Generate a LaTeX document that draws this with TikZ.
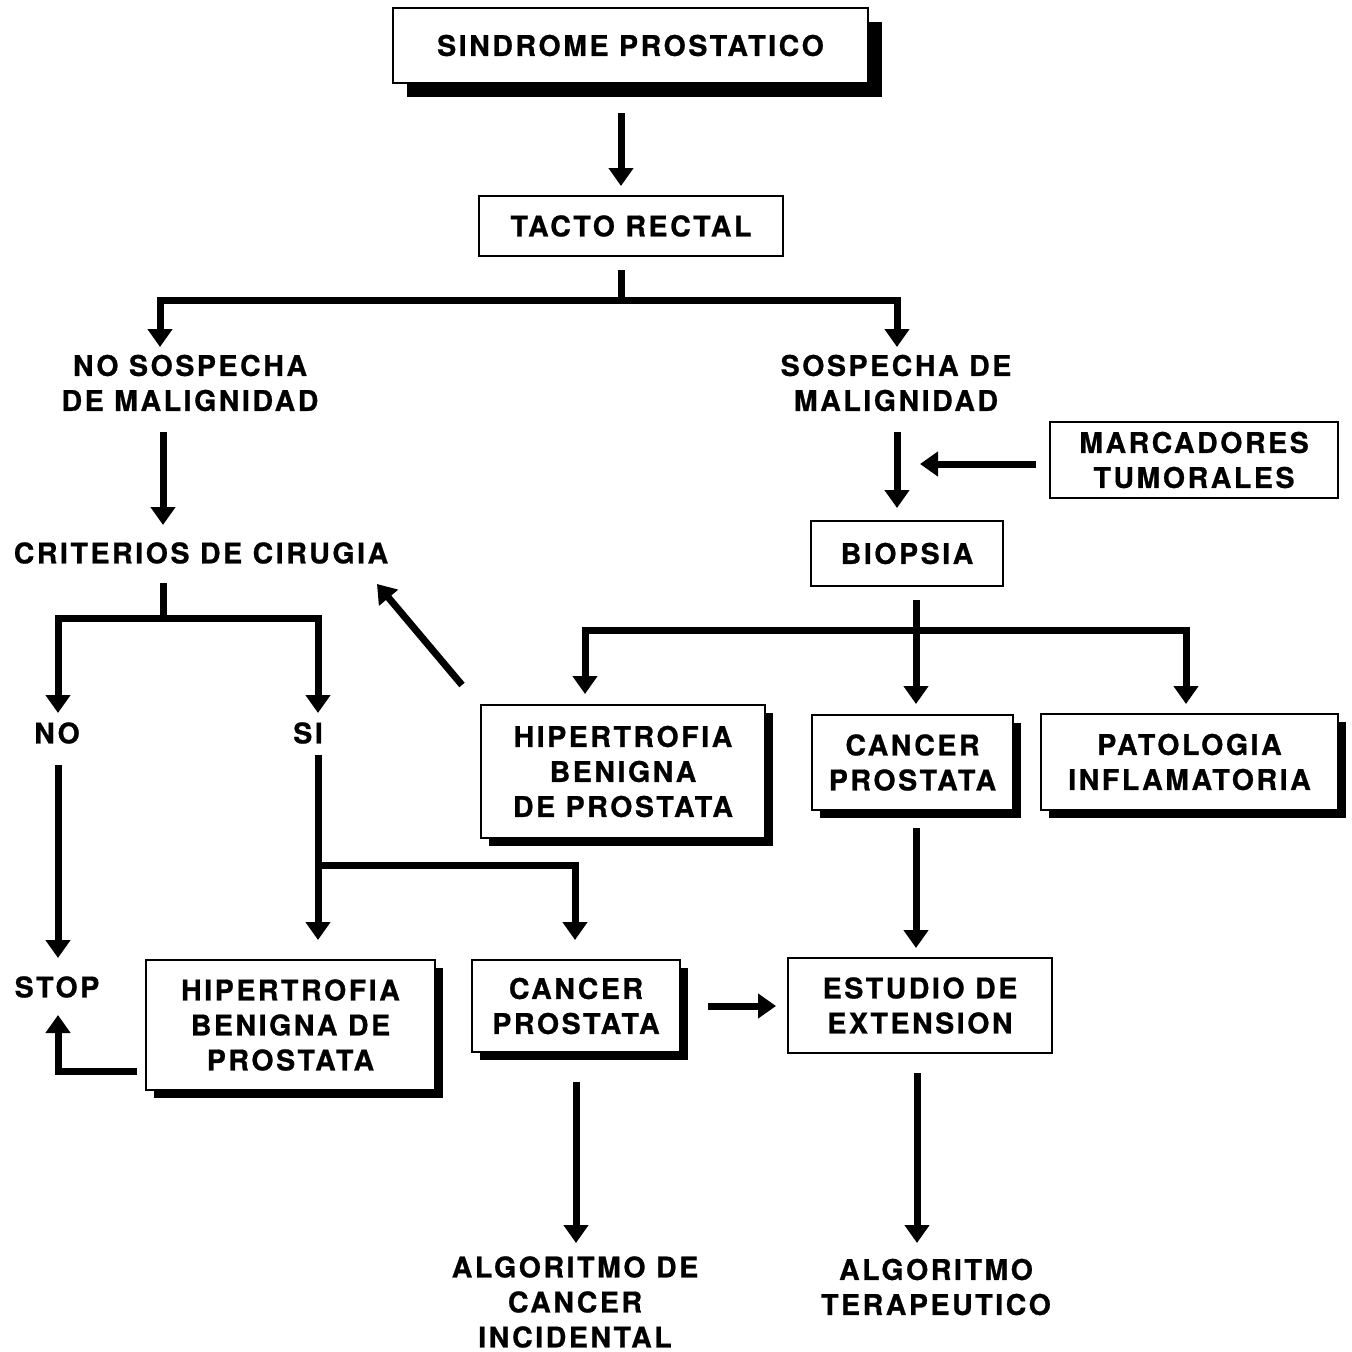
\documentclass[tikz,border=0pt]{standalone}
\usepackage{fontspec}
\setmainfont{TeX Gyre Heros}[LetterSpace=9, FakeBold=0.8]
\usetikzlibrary{arrows.meta,calc,shadows}
\begin{document}
\begin{tikzpicture}[x=1pt,y=-1pt,
  every node/.style={font=\bfseries\fontsize{28.5}{35}\selectfont, align=center, inner sep=0pt},
  box/.style={draw, line width=1.8pt, fill=white},
  shade/.style={drop shadow={shadow xshift=#1, shadow yshift=-#1, fill=black, opacity=1}},
  shade/.default=8pt,
  conn/.style={line width=7pt, line join=miter},
  arr/.style={conn, -{Triangle[width=24pt,length=18pt]}}]
\useasboundingbox (0,0) rectangle (1352,1352);

% boxes
\node[box, shade=14pt, minimum width=475pt, minimum height=75pt] (top) at (630.5,45.5) {SINDROME PROSTATICO};
\node[box, minimum width=304pt, minimum height=60pt] (tacto) at (631,226) {TACTO RECTAL};
\node[box, minimum width=288pt, minimum height=76pt] (marc) at (1194,460) {MARCADORES\\TUMORALES};
\node[box, minimum width=192pt, minimum height=65pt] (biop) at (907,553.5) {BIOPSIA};
\node[box, shade, minimum width=284pt, minimum height=133pt] (hbpr) at (623,771.5) {HIPERTROFIA\\BENIGNA\\DE PROSTATA};
\node[box, shade, minimum width=201pt, minimum height=95pt] (capm) at (912.5,762.5) {CANCER\\PROSTATA};
\node[box, shade, minimum width=297pt, minimum height=96pt] (pato) at (1189.5,762) {PATOLOGIA\\INFLAMATORIA};
\node[box, shade, minimum width=289pt, minimum height=130pt] (hbpl) at (290.5,1025) {HIPERTROFIA\\BENIGNA DE\\PROSTATA};
\node[box, shade, minimum width=208pt, minimum height=92pt] (capl) at (576,1006) {CANCER\\PROSTATA};
\node[box, minimum width=264pt, minimum height=95pt] (estu) at (920,1005.5) {ESTUDIO DE\\EXTENSION};

% plain labels
\node (nosos) at (190,383) {NO SOSPECHA\\DE MALIGNIDAD};
\node (sos) at (896,383) {SOSPECHA DE\\MALIGNIDAD};
\node (crit) at (201,553) {CRITERIOS DE CIRUGIA};
\node (no) at (57,733) {NO};
\node (si) at (308,733) {SI};
\node (stop) at (57,987) {STOP};
\node (alg1) at (575,1302) {ALGORITMO DE\\CANCER\\INCIDENTAL};
\node (alg2) at (936,1287) {ALGORITMO\\TERAPEUTICO};

% junction points
\coordinate (j1) at (621,300);
\coordinate (j2) at (163,618);
\coordinate (j3) at (916,630);
\coordinate (j4) at (318,865);

% connectors
\draw[arr] (621,113) -- (621,186);
\draw[conn] (621,270) -- (j1);
\draw[arr] (j1) -| (160,347);
\draw[arr] (j1) -| (897,347);

\draw[arr] (163,432) -- (163,525);
\draw[arr] (897,432) -- (897,508);
\draw[arr] (1036,464) -- (920,464);

\draw[conn] (163,583) -- (j2);
\draw[arr] (j2) -| (58,713);
\draw[arr] (j2) -| (318,713);
\draw[arr] (58,765) -- (58,958);
\draw[arr] (318,755) -- (318,940);
\draw[arr] (j4) -| (575,940);
\draw[arr] (137,1071) -| (58,1015);

\draw[arr] (462,685) -- (377,584);

\draw[conn] (916,600) -- (j3);
\draw[arr] (j3) -| (585,694);
\draw[arr] (j3) -- (916,704);
\draw[arr] (j3) -| (1186,704);

\draw[arr] (916,828) -- (916,948);
\draw[arr] (708,1006) -- (776,1006);
\draw[arr] (576,1082) -- (576,1243);
\draw[arr] (917,1073) -- (917,1243);
\end{tikzpicture}
\end{document}
